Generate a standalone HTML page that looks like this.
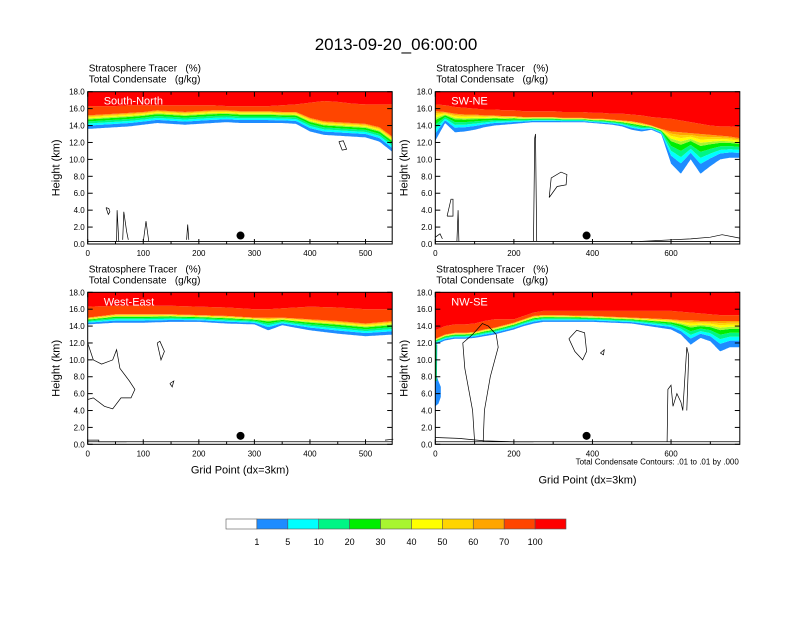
<!DOCTYPE html>
<html><head><meta charset="utf-8"><style>
body{margin:0;background:#fff;}
svg text{font-family:"Liberation Sans",Arial,sans-serif;white-space:pre;}
</style></head><body>
<svg id="chart" width="792" height="612" xmlns="http://www.w3.org/2000/svg">
<rect width="792" height="612" fill="#fff"/>
<text x="396" y="50" text-anchor="middle" font-size="17">2013-09-20_06:00:00</text>
</svg>
<script>
// ---- data ----
const bandColors = ["#1e8cff","#00ffff","#00f585","#00ee00","#a8f530","#ffff00","#ffd400","#ffa500","#ff4500","#ff0000"];
const bandFractions = [0,0.25,0.4,0.55,0.7,0.78,0.86,0.93,1.0];
const legendLabels = ["1","5","10","20","30","40","50","60","70","100"];
const yTicks = [0,2,4,6,8,10,12,14,16,18];
const xTicksShort = [0,100,200,300,400,500];
const xTicksLong = [0,200,400,600];
const panelNames = ["South-North","SW-NE","West-East","NW-SE"];
const p1x = [0,25,50,75,100,125,150,175,200,225,250,275,300,325,350,375,400,425,450,475,500,525,550];
const p1base = [13.6,13.7,13.8,13.9,14.1,14.3,14.2,14.1,14.2,14.3,14.4,14.3,14.3,14.3,14.3,14.2,13.3,12.9,12.8,12.7,12.6,12.1,10.8];
const p1mid = [15.2,15.3,15.4,15.5,15.6,15.8,15.7,15.6,15.7,15.8,15.8,15.7,15.7,15.7,15.6,15.6,14.9,14.5,14.4,14.3,14.2,13.8,12.6];
const p1red = [16.3,16.3,16.3,16.4,16.4,16.4,16.4,16.4,16.4,16.4,16.3,16.3,16.3,16.3,16.4,16.5,16.7,16.9,16.8,16.6,16.5,16.5,16.5];
const p2x = [0,25,50,75,100,125,150,175,200,225,250,275,300,325,350,375,400,425,450,475,500,525,550,575,600,625,650,675,700,725,750,775];
const p2base = [12.2,14.3,13.2,13.3,13.5,13.8,14.0,14.1,14.2,14.3,14.4,14.4,14.4,14.4,14.4,14.4,14.3,14.2,14.1,13.9,13.5,13.3,13.5,13.0,9.5,8.3,10.0,8.3,9.2,10.0,10.2,10.2];
const p2mid = [15.7,15.6,15.4,15.3,15.3,15.2,15.2,15.1,15.1,15.0,15.0,15.0,15.0,14.9,14.9,14.9,14.8,14.8,14.7,14.6,14.5,14.3,14.0,13.6,13.3,13.2,13.1,13.0,12.9,12.8,12.7,12.5];
const p2red = [16.5,16.4,16.2,16.1,16.0,15.9,15.9,15.8,15.8,15.7,15.7,15.7,15.7,15.6,15.6,15.6,15.5,15.5,15.4,15.4,15.3,15.2,15.0,14.9,14.8,14.6,14.4,14.2,14.0,13.9,13.9,13.8];
const p3x = [0,50,100,150,200,250,300,325,350,400,450,500,550];
const p3base = [14.2,14.4,14.4,14.5,14.5,14.3,14.2,13.5,14.1,13.5,13.1,12.8,13.0];
const p3mid = [15.0,15.4,15.4,15.4,15.3,15.2,15.0,15.0,15.0,14.8,14.6,14.3,14.6];
const p3red = [16.3,16.4,16.4,16.4,16.3,16.2,16.0,16.0,16.1,16.3,16.2,16.0,16.0];
const p4x = [0,25,50,75,100,125,150,175,200,225,250,275,300,400,500,600,625,650,675,700,725,750,775];
const p4base = [11.8,12.3,12.5,12.5,12.6,12.8,13.0,13.3,13.6,14.0,14.3,14.5,14.5,14.5,14.3,13.6,13.0,11.8,12.6,12.2,11.0,11.5,11.5];
const p4mid = [12.5,13.0,13.2,13.2,13.3,13.6,13.8,14.1,14.4,14.8,15.2,15.3,15.3,15.2,15.0,14.8,14.7,14.7,14.6,14.6,14.6,14.6,14.6];
const p4red = [13.5,14.0,14.2,14.2,14.3,14.6,14.8,14.8,14.8,15.2,15.6,15.8,15.8,15.8,15.8,15.8,15.7,15.6,15.5,15.4,15.3,15.3,15.3];
// extra tracer patches in NW-SE panel (grid point, km), colour index
const p4blueEdge = [[0,4.5],[8,4.8],[14,5.6],[14,6.8],[8,7.5],[4,8],[5,11.8],[0,12]];
const p4greenEdge = [[0,7.5],[3,7.5],[3,11.8],[0,12]];
// contour lines (grid point, km)
const c1 = [[[33,4.3],[37,3.5],[40,3.8],[38,4.2],[33,4.3]],[[52,0.3],[53,4.0],[56,0.3]],[[63,0.5],[65,3.8],[70,1.5],[73,0.5]],[[100,0.3],[105,2.7],[110,0.3]],[[178,0.5],[180,2.3],[182,0.5]],[[452,12.1],[460,12.2],[466,11.2],[458,11.1],[452,12.1]]];
const c2 = [[[30,3.3],[40,5.3],[45,5.3],[45,3.3],[30,3.3]],[[55,0.3],[58,4.0],[60,0.3]],[[250,0.3],[253,12.5],[255,13.0],[258,0.3]],[[290,5.5],[295,7.8],[320,8.5],[335,8.2],[333,7.0],[310,6.8],[290,5.5]],[[520,0.3],[600,0.5],[650,0.6],[700,0.8],[730,1.1],[775,0.7]],[[0,0.8],[12,1.2],[18,0.6]]];
const c3 = [[[0,12.0],[10,10.0],[25,9.5],[45,10.0],[52,11.2],[58,9.0],[75,7.5],[85,6.5],[78,5.5],[60,5.5],[45,4.2],[30,4.5],[10,5.5],[0,5.3]],[[125,12.0],[130,12.2],[138,11.0],[132,10.0],[125,12.0]],[[148,7.2],[155,7.5],[152,6.8],[148,7.2]],[[0,0.5],[20,0.5],[20,0.3],[70,0.3]],[[535,0.5],[550,0.6]]];
const c4 = [[[100,0.3],[95,4],[75,9],[70,12],[95,13],[120,14.3],[135,14],[155,13],[160,11.5],[140,8],[125,4],[122,0.3]],[[0,0.8],[60,0.7],[125,0.4],[200,0.3],[250,0.3]],[[340,12.5],[360,13.5],[380,13.2],[385,11.0],[375,10.0],[355,11.0],[340,12.5]],[[420,10.8],[430,11.2],[428,10.6],[420,10.8]],[[590,0.3],[592,6.5],[600,7.0],[605,4.5],[615,6.0],[625,5.0],[630,4.0],[640,11.5],[645,10.5],[640,4.0]]];
const panels = [
 {x0:87.7,y0:91.7,w:304.5,h:152.3,xmax:548,xs:p1x,base:p1base,mid:p1mid,red:p1red,cont:c1,ticks:xTicksShort,dot:275},
 {x0:435.3,y0:91.7,w:304.5,h:152.3,xmax:775,xs:p2x,base:p2base,mid:p2mid,red:p2red,cont:c2,ticks:xTicksLong,dot:385},
 {x0:87.7,y0:292.3,w:304.5,h:152,xmax:548,xs:p3x,base:p3base,mid:p3mid,red:p3red,cont:c3,ticks:xTicksShort,dot:275},
 {x0:435.3,y0:292.3,w:304.5,h:152,xmax:775,xs:p4x,base:p4base,mid:p4mid,red:p4red,cont:c4,ticks:xTicksLong,dot:385,extra:[[p4blueEdge,0],[p4greenEdge,3]]}
];
// ---- drawing ----
const NS="http://www.w3.org/2000/svg";
const svg=document.getElementById('chart');
function mk(tag,attrs,parent){const e=document.createElementNS(NS,tag);for(const k in attrs)e.setAttribute(k,attrs[k]);(parent||svg).appendChild(e);return e;}
function interp(xs,ys,x){for(let i=0;i<xs.length-1;i++){if(x<=xs[i+1]){const t=(x-xs[i])/(xs[i+1]-xs[i]);return ys[i]+t*(ys[i+1]-ys[i]);}}return ys[ys.length-1];}
panels.forEach((p,pi)=>{
 const g=mk('g',{});
 
 
 const sx=v=>p.x0+v/p.xmax*p.w;
 const sy=v=>p.y0+p.h-v/18*p.h;
 const samples=[];for(let x=0;x<=p.xmax;x+=2)samples.push(x);
 const level=(x,k)=>{const b=interp(p.xs,p.base,x),m=interp(p.xs,p.mid,x),r=interp(p.xs,p.red,x);
   if(k<=8)return b+bandFractions[k]*(m-b); if(k===9)return r; return 18;};
 for(let k=0;k<10;k++){
   let pts=samples.map(x=>sx(x).toFixed(1)+','+sy(level(x,k)).toFixed(1));
   let top=samples.slice().reverse().map(x=>sx(x).toFixed(1)+','+sy(k<8?level(x,k+1):(k===8?level(x,9):18)).toFixed(1));
   const poly=mk('polygon',{points:pts.concat(top).join(' '),fill:bandColors[k]},g);
   
   
 }
 (p.extra||[]).forEach(e=>{const pg=mk('polygon',{points:e[0].map(q=>sx(q[0]).toFixed(1)+','+sy(q[1]).toFixed(1)).join(' '),fill:bandColors[e[1]]},g);
   
   });
 p.cont.forEach(c=>{const pl=mk('polyline',{points:c.map(q=>sx(q[0]).toFixed(1)+','+sy(q[1]).toFixed(1)).join(' '),fill:'none',stroke:'#000','stroke-width':0.7},g);
   
   });
 const tl=mk('line',{x1:p.x0,x2:p.x0+p.w,y1:sy(0.3),y2:sy(0.3),stroke:'#000','stroke-width':0.8},g);
 
 const dot=mk('circle',{cx:sx(p.dot),cy:sy(1.0),r:4,fill:'#000'},g);
 
 const fr=mk('rect',{x:p.x0,y:p.y0,width:p.w,height:p.h,fill:'none',stroke:'#000','stroke-width':1},g);
 
 yTicks.forEach(v=>{const y=sy(v);
   mk('line',{x1:p.x0,x2:p.x0+5,y1:y,y2:y,stroke:'#000'},g);mk('line',{x1:p.x0+p.w-5,x2:p.x0+p.w,y1:y,y2:y,stroke:'#000'},g);
   const t=mk('text',{x:p.x0-3,y:y+3,'text-anchor':'end','font-size':8},g);t.textContent=v.toFixed(1);
   });
 const step=p.ticks[1]-p.ticks[0];
 for(let v=0;v<=p.xmax;v+=step/2){const x=sx(v);const L=(v%step===0)?5:3;
   mk('line',{x1:x,x2:x,y1:p.y0+p.h,y2:p.y0+p.h-L,stroke:'#000'},g);mk('line',{x1:x,x2:x,y1:p.y0,y2:p.y0+L,stroke:'#000'},g);}
 p.ticks.forEach(v=>{const t=mk('text',{x:sx(v),y:p.y0+p.h+12,'text-anchor':'middle','font-size':8},g);t.textContent=v;
   });
 const nm=mk('text',{x:p.x0+16,y:p.y0+13,fill:'#fff','font-size':11},g);nm.textContent=panelNames[pi];
 
 const a=mk('text',{x:p.x0+1,y:p.y0-20,'font-size':10},g);a.textContent='Stratosphere Tracer   (%)';
 
 const b=mk('text',{x:p.x0+1,y:p.y0-9,'font-size':10},g);b.textContent='Total Condensate   (g/kg)';
 
 const yt=mk('text',{x:0,y:0,'font-size':11,'text-anchor':'middle',transform:'translate('+(p.x0-28)+','+(p.y0+p.h/2)+') rotate(-90)'},g);yt.textContent='Height (km)';
 
 if(pi>=2){const xt=mk('text',{x:p.x0+p.w/2,y:p.y0+p.h+29+(pi===3?10:0),'text-anchor':'middle','font-size':11},g);xt.textContent='Grid Point (dx=3km)';
   }
 if(pi===3){const n=mk('text',{x:p.x0+p.w-1,y:p.y0+p.h+20,'text-anchor':'end','font-size':8},g);n.textContent='Total Condensate Contours: .01 to .01 by .000';
   }
});
// colorbar
const cb=mk('g',{});


const cbColors=["#ffffff"].concat(bandColors);
const bw=340/11;
cbColors.forEach((c,i)=>{const r=mk('rect',{x:226+i*bw,y:519,width:bw,height:10,fill:c,stroke:'#555','stroke-width':0.6},cb);
 });
legendLabels.forEach((l,i)=>{const t=mk('text',{x:226+(i+1)*bw,y:545,'text-anchor':'middle','font-size':9},cb);t.textContent=l;
 });
</script>
</body></html>
